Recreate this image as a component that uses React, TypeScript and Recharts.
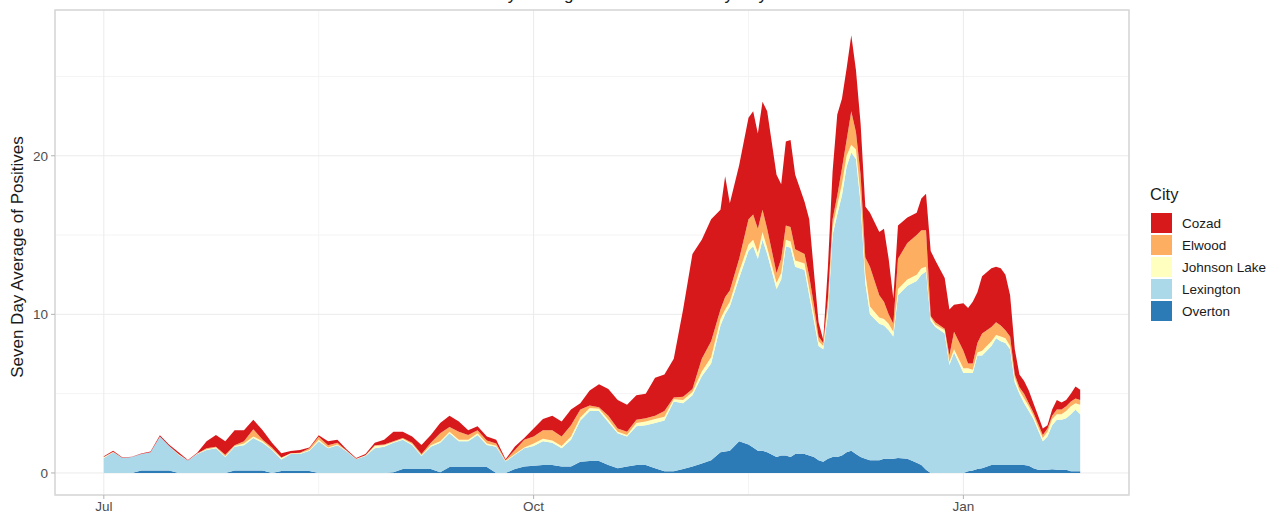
import { AreaChart, Area, XAxis, YAxis, CartesianGrid, ReferenceArea } from 'recharts';

// days since Jul 1
const days = [
  0, 2, 4, 6, 8, 10, 12, 14, 16, 18,
  20, 22, 24, 26, 28, 30, 32, 34, 36, 38,
  40, 42, 44, 46, 48, 50, 52, 54, 56, 58,
  60, 62, 64, 66, 68, 70, 72, 74, 76, 78,
  80, 82, 84, 86, 88, 90, 92, 94, 96, 98,
  100, 102, 104, 106, 108, 110, 112, 114, 116, 118,
  120, 122, 124, 126, 128, 130, 132, 133, 134, 136,
  138, 139, 140, 141, 142, 144, 145, 146, 147, 148,
  150, 151, 152, 153, 154, 155, 156, 157, 158, 159,
  160, 161, 162, 163, 164, 166, 167, 168, 169, 170,
  172, 174, 175, 176, 177, 178, 180, 181, 182, 184,
  185, 186, 187, 188, 190, 191, 192, 193, 194, 195,
  196, 197, 198, 199, 200, 201, 202, 203, 204, 205,
  206, 207, 208, 209,
]

const overton = [
  0, 0, 0, 0, .15, .15, .15, .15, 0, 0,
  0, 0, 0, 0, .15, .15, .15, .15, 0, .12,
  .12, .12, .12, 0, 0, 0, 0, 0, 0, 0,
  0, .05, .25, .25, .25, .25, .05, .38, .38, .38,
  .38, .38, 0, 0, .25, .4, .45, .5, .5, .4,
  .4, .7, .75, .75, .5, .3, .4, .5, .5, .3,
  .1, .1, .25, .4, .6, .8, 1.3, 1.35, 1.4, 2.0,
  1.8, 1.6, 1.4, 1.4, 1.3, 1.0, 1.1, 1.1, 1.0, 1.2,
  1.2, 1.1, 1.0, .8, .7, .9, 1.0, 1.0, 1.1, 1.3,
  1.4, 1.2, 1.0, .9, .8, .8, .9, .9, .9, .95,
  .9, .65, .5, .2, 0, 0, 0, 0, 0, 0,
  .1, .15, .25, .3, .5, .5, .5, .5, .5, .5,
  .5, .5, .45, .3, .2, .2, .2, .23, .2, .2,
  .2, .1, .1, .1,
]

const lexington = [
  .95, 1.3, .95, 1.0, 1.05, 1.15, 2.15, 1.55, 1.15, .78,
  1.2, 1.45, 1.55, 1.0, 1.5, 1.6, 2.05, 1.75, 1.45, .73,
  1.08, 1.08, 1.28, 2.0, 1.55, 1.75, 1.35, .87, 1.07, 1.55,
  1.65, 1.85, 1.85, 1.52, .82, 1.4, 1.85, 2.12, 1.62, 1.62,
  2.02, 1.39, 1.65, .72, .89, 1.15, 1.25, 1.5, 1.4, 1.15,
  1.7, 2.6, 3.15, 3.15, 2.7, 2.2, 1.9, 2.45, 2.5, 2.85,
  3.2, 4.4, 4.15, 4.5, 5.5, 6.1, 8.0, 8.65, 9.1, 10.3,
  12.2, 12.7, 12.1, 13.3, 12.5, 10.6, 11.1, 13.2, 13.2, 11.8,
  11.6, 10.1, 8.6, 7.2, 7.1, 9.1, 14.0, 15.3, 16.4, 18.0,
  18.8, 18.6, 16.0, 11.1, 9.2, 8.6, 8.4, 8.1, 7.7, 10.25,
  10.9, 11.45, 12.0, 12.5, 9.6, 9.2, 8.8, 6.8, 7.6, 6.3,
  6.2, 6.15, 7.15, 7.1, 7.5, 8.0, 7.8, 7.7, 7.3, 5.2,
  4.5, 3.9, 3.45, 3.1, 2.5, 1.8, 2.1, 2.77, 3.15, 3.15,
  3.25, 3.6, 3.9, 3.6,
]

const johnsonLake = [
  .05, .02, 0, 0, 0, 0, 0, 0, .03, 0,
  .02, .05, .05, .05, .05, .1, .1, .1, .05, .1,
  .05, .05, .05, .1, .05, .05, .03, .01, .03, .15,
  .1, .05, .05, .05, .05, .1, .1, .1, .1, .1,
  .1, .08, .07, .04, .06, .05, .15, .15, .15, .15,
  .2, .2, .2, .15, .15, .1, .1, .2, .25, .25,
  .25, .15, .2, .2, .3, .4, .4, .3, .3, .4,
  .4, .4, .4, .5, .4, .4, .4, .4, .4, .4,
  .4, .4, .4, .3, .2, .5, .5, .6, .7, .7,
  .5, .6, .5, .6, .5, .4, .4, .4, .3, .4,
  .4, .4, .4, .3, .2, .15, .2, .2, .2, .3,
  .3, .2, .2, .3, .3, .2, .3, .3, .2, .3,
  .2, .3, .3, .2, .2, .2, .3, .4, .35, .35,
  .45, .5, .4, .6,
]

const elwood = [
  0, .01, 0, 0, 0, 0, 0, 0, .02, 0,
  0, .05, .05, .1, .05, .15, .45, .1, .1, .02,
  0, .03, .1, .18, .15, .1, .02, .02, .02, .05,
  .05, .05, .05, .08, .08, .15, .5, .3, .5, .3,
  .2, .2, .13, .04, .25, .5, .45, .55, .65, .6,
  .7, .5, .15, .1, .25, .2, .2, .2, .2, .2,
  .35, .1, .2, .2, .8, 1.0, .6, .8, .7, .8,
  1.6, 1.6, 1.5, 1.4, 1.2, .6, .9, .9, .9, .7,
  .6, .8, .6, .3, .2, .5, .5, .6, 1.0, 1.0,
  2.1, 1.1, 1.3, 1.0, 2.5, 1.4, 1.1, .6, .5, 1.9,
  2.3, 2.5, 2.4, 2.3, .1, .15, .1, .4, 1.1, 1.1,
  .3, .4, .6, 1.1, .9, .8, .7, .5, .6, .2,
  .2, .3, .2, .2, .2, .2, .2, .2, .3, .3,
  .3, .3, .3, .3,
]

const cozad = [
  .05, .07, .02, .02, .02, .05, .08, .08, .1, .04,
  .06, .45, .75, .85, .95, .7, .6, .6, .3, .28,
  .13, .17, .05, .1, .25, .2, .08, .05, .08, .15,
  .3, .6, .4, .4, .57, .5, .65, .7, .65, .3,
  .25, .25, .25, .06, .22, .1, .5, .7, .9, .95,
  1.0, .4, .95, 1.45, 1.7, 1.8, 1.7, 1.55, 1.55, 2.4,
  2.3, 2.45, 5.5, 8.5, 7.5, 7.7, 6.3, 7.6, 5.5, 5.9,
  6.4, 6.5, 6.0, 6.8, 7.4, 6.2, 4.7, 5.3, 5.5, 4.7,
  3.3, 3.6, 2.1, .9, .2, 2.0, 3.0, 5.1, 4.4, 4.5,
  4.8, 3.9, 3.2, 3.2, 3.4, 4.0, 4.6, 3.5, 1.6, 2.1,
  1.6, 1.4, 2.0, 2.3, 4.1, 3.9, 3.2, 2.9, 1.7, 3.0,
  3.5, 3.9, 3.2, 3.6, 3.7, 3.5, 3.6, 3.5, 2.6, 1.6,
  .8, .8, .8, .6, .5, .4, .2, .4, .6, .45,
  .4, .5, .75, .65,
]

const monthTicks = [0, 92, 184]
const monthLabels = ['Jul', 'Oct', 'Jan']
const minorX = [46, 138]
const minorY = [5, 15, 25]

// bottom of the stack first
const cities = [
  { name: 'Overton', values: overton, color: '#2c7bb6' },
  { name: 'Lexington', values: lexington, color: '#abd9e9' },
  { name: 'Johnson Lake', values: johnsonLake, color: '#ffffbf' },
  { name: 'Elwood', values: elwood, color: '#fdae61' },
  { name: 'Cozad', values: cozad, color: '#d7191c' },
]

const data = days.map((day, i) => {
  const row: Record<string, number> = { day }
  cities.forEach(c => { row[c.name] = c.values[i] })
  return row
})

const font = '"Liberation Sans", Arial, Helvetica, sans-serif'
const xDomain = [-10.45, 219.45]
const yDomain = [-1.39, 29.19]

const App = () => {
  return (
    <div style={{ position: 'absolute', left: 0, top: 0, width: 1284, height: 516, background: '#fff', fontFamily: font, overflow: 'hidden' }}>
      {/* title sits mostly above the frame, as in the source */}
      <div style={{ position: 'absolute', left: 600, top: -14, transform: 'translateX(-50%)', whiteSpace: 'nowrap', fontSize: 17, lineHeight: '17px', color: '#1a1a1a' }}>
        Seven Day Average of Positive Tests by City
      </div>
      <AreaChart width={1284} height={516} data={data} margin={{ top: 10, right: 155, left: 0, bottom: 0 }}>
        <CartesianGrid stroke='#f4f4f4' strokeWidth={1} horizontalValues={minorY} verticalValues={minorX} />
        <CartesianGrid stroke='#ebebeb' strokeWidth={1} />
        <XAxis
          dataKey='day'
          type='number'
          domain={xDomain}
          allowDataOverflow
          ticks={monthTicks}
          tickFormatter={(v) => monthLabels[monthTicks.indexOf(v)]}
          height={21}
          axisLine={false}
          tickSize={4}
          tickMargin={2}
          tickLine={{ stroke: '#b3b3b3' }}
          tick={{ fill: '#4d4d4d', fontSize: 13.5, fontFamily: font }}
        />
        <YAxis
          type='number'
          domain={yDomain}
          allowDataOverflow
          ticks={[0, 10, 20]}
          width={55}
          axisLine={false}
          tickSize={4}
          tickMargin={3}
          tickLine={{ stroke: '#b3b3b3' }}
          tick={{ fill: '#4d4d4d', fontSize: 13.5, fontFamily: font }}
        />
        {cities.map(c => (
          <Area
            key={c.name}
            type='linear'
            dataKey={c.name}
            stackId='city'
            stroke='none'
            fill={c.color}
            fillOpacity={1}
            isAnimationActive={false}
          />
        ))}
        <ReferenceArea x1={xDomain[0]} x2={xDomain[1]} y1={yDomain[0]} y2={yDomain[1]} fill='none' stroke='#d6d6d6' strokeWidth={1.5} ifOverflow='visible' />
      </AreaChart>
      <div style={{ position: 'absolute', left: 18, top: 257, transform: 'translate(-50%, -50%) rotate(-90deg)', whiteSpace: 'nowrap', fontSize: 17, color: '#1a1a1a' }}>
        Seven Day Average of Positives
      </div>
      <div style={{ position: 'absolute', left: 1150, top: 184 }}>
        <div style={{ fontSize: 16.5, color: '#1a1a1a', lineHeight: '20px', marginBottom: 8 }}>City</div>
        {[...cities].reverse().map(c => (
          <div key={c.name} style={{ display: 'flex', alignItems: 'center', height: 22 }}>
            <div style={{ width: 21, height: 20, background: c.color, marginLeft: 1 }} />
            <span style={{ marginLeft: 10, fontSize: 13.5, color: '#1a1a1a' }}>{c.name}</span>
          </div>
        ))}
      </div>
    </div>
  )
}

export default App
